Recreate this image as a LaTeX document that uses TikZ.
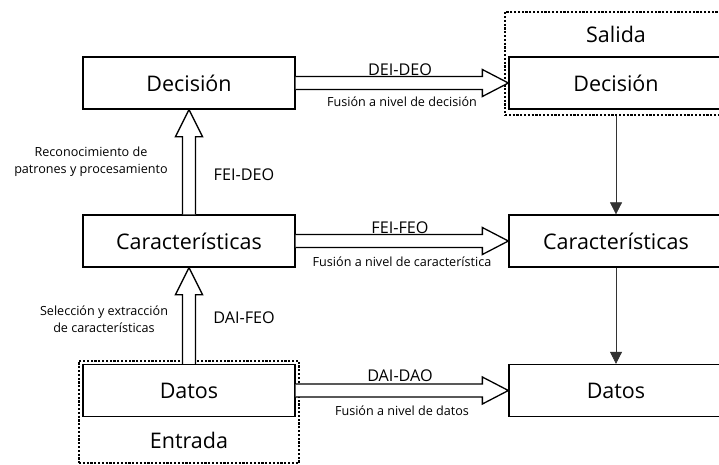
\documentclass[tikz,border=0pt]{standalone}
\usepackage{fontspec}
\setmainfont{Open Sans}
\usetikzlibrary{calc,arrows.meta}
% hollow block arrow pointing right, from the east side of #1 to the west side of #2
\newcommand\fatright[2]{%
  \draw[fat] ($(#1.east)+(0,6.5)$) -- ($(#2.west)+(-26,6.5)$) -- ($(#2.west)+(-26,13.5)$)
    -- (#2.west) -- ($(#2.west)+(-26,-13.5)$) -- ($(#2.west)+(-26,-6.5)$) -- ($(#1.east)+(0,-6.5)$);}
% hollow block arrow pointing up, from the north side of #1 to the south side of #2
\newcommand\fatup[2]{%
  \draw[fat] ($(#1.north)+(-6.5,0)$) -- ($(#2.south)+(-6.5,-27)$) -- ($(#2.south)+(-13.5,-27)$)
    -- (#2.south) -- ($(#2.south)+(13.5,-27)$) -- ($(#2.south)+(6.5,-27)$) -- ($(#1.north)+(6.5,0)$);}
\begin{document}
\begin{tikzpicture}[x=1pt,y=1pt,
  box/.style={draw, line width=1.3pt, minimum width=212pt, minimum height=52pt,
    inner sep=0pt, font=\fontsize{21.5}{24}\selectfont},
  grp/.style={draw, line width=1.1pt, dash pattern=on 2.2pt off 1.6pt,
    inner sep=0pt},
  code/.style={font=\fontsize{16.2}{19}\selectfont, inner sep=0pt},
  note/.style={font=\fontsize{12.6}{17}\selectfont, align=center, inner sep=0pt},
  title/.style={font=\fontsize{21.5}{24}\selectfont, inner sep=0pt},
  fat/.style={fill=white, line width=1.3pt, line join=miter},
  thin/.style={draw=black!80, line width=0.6pt, -{Triangle[length=12pt,width=12pt]}}
]
\useasboundingbox (0,0) rectangle (719,-464);

% dashed groups
\node[grp, minimum width=222pt, minimum height=103pt] (salida) at (616,-63.5) {};
\node[grp, minimum width=220pt, minimum height=102pt] (entrada) at (189,-412) {};
\node[title] (tsal) at (616,-34) {Salida};
\node[title] (tent) at (189,-440) {Entrada};

% level boxes
\node[box] (decL) at (189,-83) {Decisión};
\node[box] (feaL) at (189,-241) {Características};
\node[box] (datL) at (189,-390.5) {Datos};
\node[box, minimum width=214pt] (decR) at (616,-83) {Decisión};
\node[box, minimum width=214pt] (feaR) at (616,-241) {Características};
\node[box, minimum width=214pt] (datR) at (616,-390.5) {Datos};

% fusion arrows
\fatright{decL}{decR}
\fatright{feaL}{feaR}
\fatright{datL}{datR}
\fatup{feaL}{decL}
\fatup{datL}{feaL}

% output hierarchy
\draw[thin] (salida.south) -- (feaR.north);
\draw[thin] (feaR.south) -- (datR.north);

% labels
\node[code] (l1) at (400,-70) {DEI-DEO};
\node[note] (n1) at (402,-101.5) {Fusión a nivel de decisión};
\node[code] (l2) at (400,-228) {FEI-FEO};
\node[note] (n2) at (402,-262) {Fusión a nivel de característica};
\node[code] (l3) at (400,-376) {DAI-DAO};
\node[note] (n3) at (402,-411) {Fusión a nivel de datos};
\node[code] (l4) at (244,-175) {FEI-DEO};
\node[code] (l5) at (244,-318) {DAI-FEO};
\node[note] (n4) at (91,-162) {Reconocimiento de\\patrones y procesamiento};
\node[note] (n5) at (104,-319.5) {Selección y extracción\\de características};
\end{tikzpicture}
\end{document}
